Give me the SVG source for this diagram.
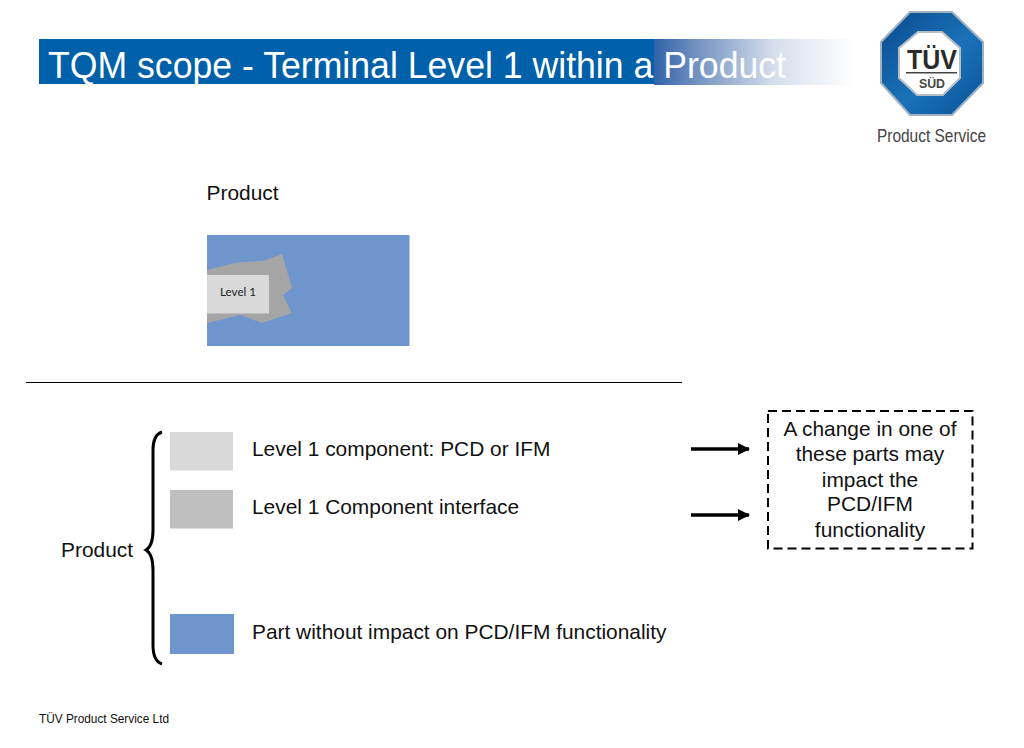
<svg xmlns="http://www.w3.org/2000/svg" width="1024" height="748" viewBox="0 0 1024 748">
<style>
text{font-family:"Liberation Sans",Arial,sans-serif;fill:#111}
.t20{font-size:20.900px}
.c{text-anchor:middle}
.conn{fill:none;stroke:#000}
</style>
<defs>
<linearGradient id="fade" x1="0" x2="1" y1="0" y2="0"><stop offset="0" stop-color="#2f62a8"/><stop offset="0.2" stop-color="#6f8fc0"/><stop offset="0.6" stop-color="#d5deec"/><stop offset="1" stop-color="#fff"/></linearGradient>
<linearGradient id="oct" x1="0" y1="0" x2="1" y2="1"><stop offset="0" stop-color="#0a4a8e"/><stop offset="0.55" stop-color="#1a72b8"/><stop offset="1" stop-color="#0a5299"/></linearGradient>
<marker id="ah" viewBox="0 0 12 12" refX="11" refY="6" markerWidth="12" markerHeight="12" markerUnits="userSpaceOnUse" orient="auto"><path d="M0 0L12 6L0 12Z" fill="#000"/></marker>
</defs>
<rect width="1024" height="748" fill="#fff"/>
<g id="title">
<rect x="39" y="39" width="616" height="45" fill="#0060aa"/>
<rect x="654" y="39" width="200" height="46" fill="url(#fade)"/>
<text x="48" y="78" font-size="36.500" style="fill:#fff" textLength="738" lengthAdjust="spacingAndGlyphs">TQM scope - Terminal Level 1 within a Product</text>
</g>
<g id="logo">
<polygon points="910,12 952,12 983,42 983,83 952,115 910,115 881,83 881,42" fill="url(#oct)" stroke="#9fb0bf" stroke-width="2"/>
<polygon points="918,32 942,32 960,48 960,78 943,95 917,95 899,78 899,48" fill="#fff" stroke="#b5bcc4" stroke-width="2"/>
<text x="932" y="69" font-size="27" font-weight="bold" class="c" style="fill:#2a2a2a" textLength="50" lengthAdjust="spacingAndGlyphs">TÜV</text>
<rect x="906" y="72" width="51" height="1.500" fill="#444"/>
<text x="932" y="88" font-size="12" font-weight="bold" class="c" style="fill:#444" textLength="26" lengthAdjust="spacingAndGlyphs">SÜD</text>
<text x="931.500" y="142" font-size="18.500" class="c" style="fill:#444" textLength="109" lengthAdjust="spacingAndGlyphs">Product Service</text>
</g>
<g id="product-label"><text x="206.500" y="200" class="t20">Product</text></g>
<g id="product-figure">
<rect x="207" y="235" width="202.500" height="111" fill="#6f95cd"/>
<polygon points="207,270 237,262.500 263,261 282,254 292,288 283,295 292,313 262,323 240,315 207,323" fill="#a5a5a5"/>
<rect x="207" y="275" width="62" height="38.500" fill="#d9d9d9"/>
<text x="238" y="296" font-size="12" class="c" style="font-family:Lato,'Liberation Sans',sans-serif;fill:#222" textLength="36" lengthAdjust="spacingAndGlyphs">Level 1</text>
</g>
<g id="legend-level1">
<rect x="170" y="432" width="63" height="38.500" fill="#d9d9d9"/>
<text x="252" y="456" class="t20">Level 1 component: PCD or IFM</text>
</g>
<g id="legend-interface">
<rect x="170" y="490" width="63" height="38.500" fill="#bfbfbf"/>
<text x="252" y="514" class="t20">Level 1 Component interface</text>
</g>
<g id="legend-part">
<rect x="170" y="614" width="64" height="40" fill="#6f95cd"/>
<text x="252" y="638.500" class="t20">Part without impact on PCD/IFM functionality</text>
</g>
<g id="product-brace"><text x="61" y="557" class="t20">Product</text></g>
<g id="note">
<rect x="768" y="411" width="204.500" height="137.500" fill="none" stroke="#000" stroke-width="2" stroke-dasharray="9 5"/>
<text x="870" y="436" class="t20 c">A change in one of</text>
<text x="870" y="461" class="t20 c">these parts may</text>
<text x="870" y="487" class="t20 c">impact the</text>
<text x="870" y="511" class="t20 c">PCD/IFM</text>
<text x="870" y="537" class="t20 c">functionality</text>
</g>
<g id="connectors">
<line class="conn" x1="26" y1="382.500" x2="682" y2="382.500" stroke-width="1"/>
<path class="conn" stroke-width="3" d="M162 432C156 434 153 441 153 450V530C153 541 151 547 146 550C151 553 153 559 153 570V645C153 656 156 662 162 664"/>
<line class="conn" x1="691" y1="449" x2="749" y2="449" stroke-width="3.500" marker-end="url(#ah)"/>
<line class="conn" x1="691" y1="515" x2="749" y2="515" stroke-width="3.500" marker-end="url(#ah)"/>
</g>
<g id="footer"><text x="39" y="723" font-size="13" textLength="130" lengthAdjust="spacingAndGlyphs">TÜV Product Service Ltd</text></g>
</svg>
